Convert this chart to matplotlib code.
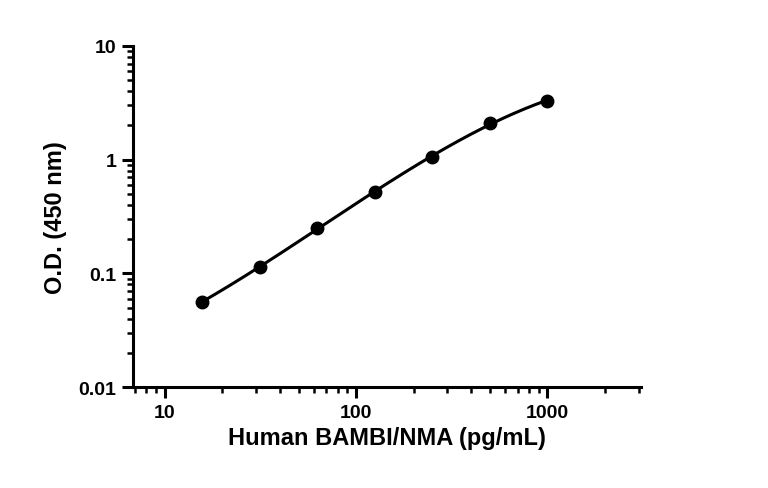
import numpy as np
import matplotlib
matplotlib.use("Agg")
import matplotlib.pyplot as plt
from matplotlib.ticker import LogLocator, FixedLocator, FixedFormatter, NullFormatter

conc = [15.6, 31.25, 62.5, 125, 250, 500, 1000]
od = [0.056, 0.113, 0.25, 0.52, 1.05, 2.1, 3.3]

plt.rcParams['font.family'] = ['Liberation Sans', 'DejaVu Sans']
plt.rcParams['font.weight'] = 'bold'

fig = plt.figure(figsize=(7.68, 4.89), dpi=100)
ax = fig.add_axes([0.173, 0.2065, 0.662, 0.6975])

lx, ly = np.log10(conc), np.log10(od)
c = np.polyfit(lx, ly, 3)
xs = np.linspace(lx[0], lx[-1], 200)
ax.plot(10**xs, 10**np.polyval(c, xs), color='black', lw=2.2)
ax.plot(conc, od, 'o', color='black', ms=9)

ax.set_xscale('log'); ax.set_yscale('log')
ax.set_xlim(6.8, 3100); ax.set_ylim(0.01, 10)
ax.xaxis.set_major_locator(FixedLocator([10, 100, 1000]))
ax.xaxis.set_major_formatter(FixedFormatter(['10', '100', '1000']))
ax.yaxis.set_major_locator(FixedLocator([0.01, 0.1, 1, 10]))
ax.yaxis.set_major_formatter(FixedFormatter(['0.01', '0.1', '1', '10']))
for a in (ax.xaxis, ax.yaxis):
    a.set_minor_locator(LogLocator(base=10, subs=np.arange(2, 10)))
    a.set_minor_formatter(NullFormatter())
for s in ['top', 'right']:
    ax.spines[s].set_visible(False)
for s in ['left', 'bottom']:
    ax.spines[s].set_linewidth(2.2)
ax.tick_params(which='major', length=8, width=2.2, labelsize=14, pad=4)
ax.tick_params(which='minor', length=4, width=1.8)
ax.set_xlabel('Human BAMBI/NMA (pg/mL)', fontsize=17, fontweight='bold')
ax.set_ylabel('O.D. (450 nm)', fontsize=17, fontweight='bold', labelpad=8)
fig.savefig('out.png', dpi=100)
